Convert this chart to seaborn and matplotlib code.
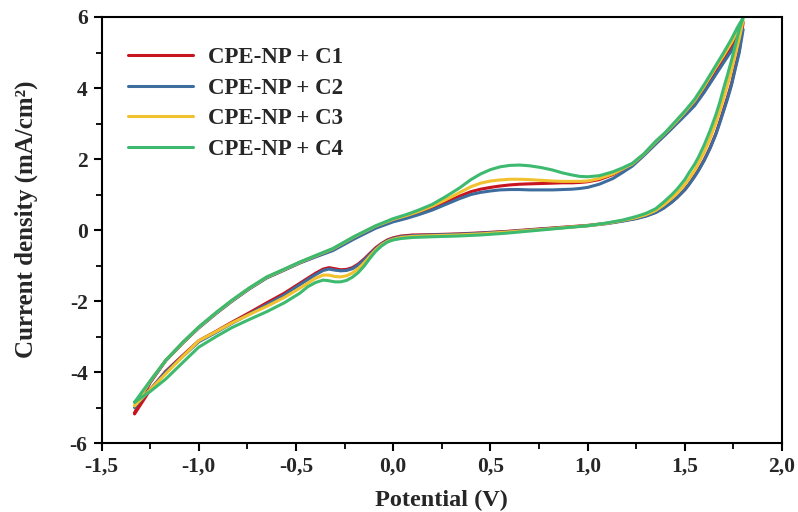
import numpy as np
import pandas as pd
import matplotlib
matplotlib.use("Agg")
import matplotlib.pyplot as plt
from matplotlib.ticker import MultipleLocator, FuncFormatter
import seaborn as sns

# ---------------- data ----------------
series = ["CPE-NP + C1", "CPE-NP + C2", "CPE-NP + C3", "CPE-NP + C4"]
colors = ["#c8141e", "#3d6c9e", "#f2c12e", "#3dba6f"]

# forward (anodic) scan potentials, V
E_fwd = [-1.33, -1.25, -1.17, -1.08, -1.00, -0.91, -0.83, -0.74, -0.65, -0.56,
         -0.48, -0.40, -0.31, -0.20, -0.09, 0.00, 0.07, 0.13, 0.20, 0.27,
         0.34, 0.40, 0.45, 0.50, 0.55, 0.60, 0.65, 0.70, 0.76, 0.82,
         0.87, 0.92, 0.96, 1.00, 1.06, 1.13, 1.18, 1.23, 1.29, 1.35,
         1.40, 1.45, 1.50, 1.55, 1.60, 1.65, 1.70, 1.74, 1.77, 1.80]
# reverse (cathodic) scan potentials, V
E_rev = [1.78, 1.76, 1.74, 1.72, 1.70, 1.68, 1.66, 1.63, 1.60, 1.57,
         1.55, 1.52, 1.50, 1.46, 1.43, 1.39, 1.35, 1.30, 1.25, 1.18,
         1.10, 1.00, 0.90, 0.80, 0.70, 0.58, 0.45, 0.33, 0.20, 0.10,
         0.04, 0.00, -0.03, -0.06, -0.09, -0.12, -0.15, -0.18, -0.21, -0.24,
         -0.27, -0.30, -0.33, -0.36, -0.40, -0.44, -0.48, -0.56, -0.65, -0.74,
         -0.83, -0.91, -1.00, -1.08, -1.17, -1.25, -1.33]

# current density, mA/cm2
c1_fwd = [-5.15, -4.30, -3.68, -3.17, -2.75, -2.34, -2.00, -1.65, -1.34, -1.12,
          -0.92, -0.74, -0.55, -0.22, 0.08, 0.27, 0.38, 0.48, 0.61, 0.78,
          0.95, 1.08, 1.15, 1.20, 1.24, 1.27, 1.29, 1.30, 1.31, 1.32,
          1.33, 1.33, 1.34, 1.36, 1.42, 1.56, 1.70, 1.85, 2.12, 2.45,
          2.70, 2.97, 3.25, 3.55, 3.92, 4.35, 4.80, 5.15, 5.50, 5.85]
c1_rev = [5.05, 4.60, 4.12, 3.75, 3.40, 3.05, 2.72, 2.32, 1.98, 1.69,
          1.52, 1.28, 1.14, 0.92, 0.78, 0.62, 0.50, 0.40, 0.33, 0.26,
          0.19, 0.13, 0.09, 0.05, 0.01, -0.04, -0.08, -0.11, -0.13, -0.14,
          -0.17, -0.22, -0.28, -0.38, -0.50, -0.66, -0.82, -0.96, -1.06, -1.11,
          -1.12, -1.09, -1.06, -1.10, -1.22, -1.36, -1.50, -1.78, -2.05, -2.33,
          -2.60, -2.85, -3.12, -3.52, -3.98, -4.50, -5.18]

c2_fwd = [-5.00, -4.28, -3.68, -3.17, -2.76, -2.35, -2.01, -1.66, -1.35, -1.13,
          -0.93, -0.76, -0.58, -0.25, 0.05, 0.23, 0.33, 0.43, 0.56, 0.72,
          0.88, 1.00, 1.06, 1.10, 1.13, 1.14, 1.14, 1.13, 1.13, 1.13,
          1.14, 1.15, 1.17, 1.20, 1.29, 1.45, 1.62, 1.80, 2.10, 2.42,
          2.68, 2.95, 3.22, 3.50, 3.88, 4.30, 4.72, 5.05, 5.35, 5.65]
c2_rev = [5.00, 4.55, 4.08, 3.70, 3.36, 3.02, 2.70, 2.30, 1.96, 1.67,
          1.50, 1.27, 1.13, 0.91, 0.77, 0.61, 0.49, 0.39, 0.32, 0.25,
          0.18, 0.12, 0.08, 0.04, 0.00, -0.05, -0.09, -0.12, -0.14, -0.16,
          -0.19, -0.24, -0.30, -0.40, -0.53, -0.69, -0.85, -0.99, -1.09, -1.14,
          -1.15, -1.13, -1.10, -1.14, -1.26, -1.40, -1.54, -1.83, -2.10, -2.37,
          -2.63, -2.88, -3.15, -3.55, -4.00, -4.50, -4.98]

c3_fwd = [-4.95, -4.26, -3.67, -3.16, -2.74, -2.33, -1.99, -1.64, -1.33, -1.11,
          -0.91, -0.73, -0.53, -0.19, 0.11, 0.30, 0.41, 0.52, 0.67, 0.85,
          1.05, 1.22, 1.32, 1.38, 1.41, 1.43, 1.43, 1.42, 1.40, 1.38,
          1.37, 1.37, 1.37, 1.38, 1.45, 1.58, 1.72, 1.86, 2.14, 2.48,
          2.74, 3.02, 3.32, 3.64, 4.05, 4.50, 4.92, 5.28, 5.60, 5.90]
c3_rev = [5.40, 4.95, 4.50, 4.10, 3.72, 3.36, 3.02, 2.58, 2.20, 1.88,
          1.68, 1.43, 1.28, 1.03, 0.88, 0.70, 0.55, 0.43, 0.35, 0.27,
          0.19, 0.12, 0.08, 0.03, -0.01, -0.06, -0.11, -0.14, -0.16, -0.18,
          -0.21, -0.26, -0.32, -0.42, -0.56, -0.74, -0.93, -1.09, -1.21, -1.29,
          -1.32, -1.31, -1.27, -1.27, -1.36, -1.50, -1.64, -1.90, -2.15, -2.38,
          -2.62, -2.86, -3.12, -3.55, -4.05, -4.50, -4.95]

c4_fwd = [-4.85, -4.25, -3.67, -3.15, -2.73, -2.32, -1.98, -1.63, -1.32, -1.10,
          -0.90, -0.72, -0.52, -0.18, 0.12, 0.32, 0.44, 0.56, 0.72, 0.94,
          1.18, 1.42, 1.58, 1.70, 1.78, 1.82, 1.83, 1.81, 1.76, 1.69,
          1.61, 1.55, 1.51, 1.50, 1.53, 1.64, 1.75, 1.88, 2.15, 2.50,
          2.75, 3.05, 3.35, 3.68, 4.10, 4.55, 5.00, 5.38, 5.70, 5.98]
c4_rev = [5.65, 5.20, 4.78, 4.38, 4.00, 3.60, 3.25, 2.80, 2.40, 2.05,
          1.85, 1.60, 1.42, 1.15, 0.98, 0.78, 0.60, 0.47, 0.38, 0.28,
          0.20, 0.12, 0.07, 0.02, -0.03, -0.09, -0.14, -0.17, -0.19, -0.21,
          -0.24, -0.28, -0.34, -0.45, -0.60, -0.80, -1.02, -1.20, -1.33, -1.42,
          -1.46, -1.46, -1.43, -1.41, -1.48, -1.60, -1.78, -2.05, -2.30, -2.52,
          -2.75, -3.00, -3.30, -3.72, -4.20, -4.55, -4.85]

x_ticks = [-1.5, -1.0, -0.5, 0.0, 0.5, 1.0, 1.5, 2.0]
y_ticks = [-6, -4, -2, 0, 2, 4, 6]

# ---------------- build long table ----------------
fwd = [c1_fwd, c2_fwd, c3_fwd, c4_fwd]
rev = [c1_rev, c2_rev, c3_rev, c4_rev]
rows = []
for name, f, r in zip(series, fwd, rev):
    E = list(E_fwd) + list(E_rev)
    J = list(f) + list(r)
    for i, (e, j) in enumerate(zip(E, J)):
        rows.append({"series": name, "E": e, "j": j, "order": i})
df = pd.DataFrame(rows)

# ---------------- plot ----------------
sns.set_theme(style="white")
plt.rcParams["font.family"] = ["Liberation Serif", "DejaVu Serif"]
plt.rcParams["font.weight"] = "bold"

fig = plt.figure(figsize=(7.98, 5.12), dpi=100)
ax = fig.add_axes([0.1272, 0.1347, 0.8528, 0.8321])

sns.lineplot(data=df, x="E", y="j", hue="series", hue_order=series,
             palette=colors, sort=False, estimator=None, units="series",
             linewidth=2.2, ax=ax)

ax.set_xlim(-1.5, 2.0)
ax.set_ylim(-6, 6)
ax.set_xticks(x_ticks)
ax.set_yticks(y_ticks)
ax.xaxis.set_minor_locator(MultipleLocator(0.25))
ax.yaxis.set_minor_locator(MultipleLocator(1))
ax.xaxis.set_major_formatter(FuncFormatter(lambda v, p: f"{v:.1f}".replace(".", ",")))
ax.yaxis.set_major_formatter(FuncFormatter(lambda v, p: f"{int(round(v))}"))

ax.tick_params(axis="both", which="major", direction="out", length=6, width=1.5,
               labelsize=15.5, color="black", bottom=True, left=True, pad=4)
ax.tick_params(axis="both", which="minor", direction="out", length=4, width=1.3,
               color="black", bottom=True, left=True)
for lbl in ax.get_xticklabels() + ax.get_yticklabels():
    lbl.set_fontweight("bold")

for s in ax.spines.values():
    s.set_color("black")
    s.set_linewidth(1.5)

ax.set_xlabel("Potential (V)", fontsize=17.5, fontweight="bold", labelpad=9)
ax.set_ylabel("Current density (mA/cm²)", fontsize=18, fontweight="bold")
ax.yaxis.set_label_coords(-0.093, 0.525)

leg = ax.legend(loc="upper left", bbox_to_anchor=(0.0396, 0.93), frameon=False,
                borderpad=0, borderaxespad=0,
                prop={"family": "Liberation Serif", "weight": "bold", "size": 16.5},
                handlelength=2.8, handletextpad=0.65, labelspacing=0.42)
for h in leg.get_lines():
    h.set_linewidth(2.2)

fig.savefig("out.png", dpi=100)
